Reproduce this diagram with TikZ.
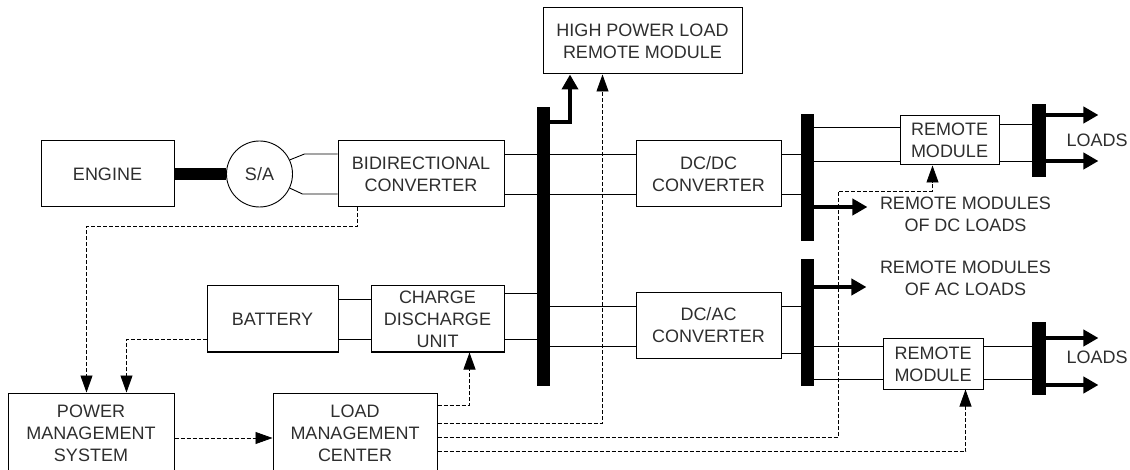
\documentclass[tikz,border=0pt]{standalone}
\usepackage{fontspec}
\setmainfont{Liberation Sans}
\usetikzlibrary{arrows.meta}
\definecolor{ink}{HTML}{2E2E2E}

\begin{document}
\begin{tikzpicture}[x=1pt, y=-1pt, line width=0.9pt,
  font=\fontsize{18}{22}\selectfont, text=ink,
  box/.style={draw, line width=1pt, inner sep=0pt, align=center},
  bus/.style={fill=black, inner sep=0pt, minimum width=13},
  shaft/.style={line width=12pt},
  power/.style={line width=4pt, -{Triangle[length=15pt,width=16pt]}},
  ctrl/.style={line width=0.8pt, dash pattern=on 4pt off 2pt,
               -{Triangle[length=17pt,width=12pt]}},
]
\clip (0,0) rectangle (1130,470);

% generation side
\node[box, minimum width=133, minimum height=66] (engine) at (107.5,174) {ENGINE};
\node[draw, circle, inner sep=0pt, minimum size=66] (sa) at (259.5,174) {S/A};
\node[box, minimum width=166, minimum height=66] (bidir) at (421,174) {BIDIRECTIONAL\\CONVERTER};
\node[box, minimum width=131, minimum height=66] (battery) at (272.5,319) {BATTERY};
\node[box, minimum width=133, minimum height=66] (cdu) at (437.5,319) {CHARGE\\DISCHARGE\\UNIT};

% buses
\node[bus, minimum height=279] (busM) at (543.5,246.5) {};
\node[bus, minimum height=127] (busDC) at (807.5,177.5) {};
\node[bus, minimum height=127] (busAC) at (807.5,322.5) {};
\node[bus, minimum width=14, minimum height=73] (busL1) at (1039,140.5) {};
\node[bus, minimum width=14, minimum height=73] (busL2) at (1039,358.5) {};

% converters and loads
\node[box, minimum width=199, minimum height=66] (hpl) at (642.5,41) {HIGH POWER LOAD\\REMOTE MODULE};
\node[box, minimum width=145, minimum height=66] (dcdc) at (708.5,174) {DC/DC\\CONVERTER};
\node[box, minimum width=145, minimum height=65] (dcac) at (708.5,325.5) {DC/AC\\CONVERTER};
\node[box, minimum width=99, minimum height=49] (rm1) at (949.5,140.5) {REMOTE\\MODULE};
\node[box, minimum width=100, minimum height=50] (rm2) at (933,364) {REMOTE\\MODULE};
\node[inner sep=0pt] (ld1) at (1097,140) {LOADS};
\node[inner sep=0pt] (ld2) at (1097,357) {LOADS};
\node[inner sep=0pt, align=center] (rmDC) at (965.5,214.5) {REMOTE MODULES\\OF DC LOADS};
\node[inner sep=0pt, align=center] (rmAC) at (965.5,278) {REMOTE MODULES\\OF AC LOADS};

% management
\node[box, minimum width=166, minimum height=80] (pms) at (91,433) {POWER\\MANAGEMENT\\SYSTEM};
\node[box, minimum width=164, minimum height=80] (lmc) at (355,433) {LOAD\\MANAGEMENT\\CENTER};
\coordinate (jDC) at (838,191);

% power wiring
\draw[shaft] (engine.east) -- (sa.west);
\draw (sa.25) -- ([xshift=-33pt,yshift=20pt]bidir.west) -- ([yshift=20pt]bidir.west);
\draw (sa.-25) -- ([xshift=-35pt,yshift=-20pt]bidir.west) -- ([yshift=-20pt]bidir.west);
\draw ([yshift=20pt]bidir.east) -- ([yshift=20pt]dcdc.west);
\draw ([yshift=-20pt]bidir.east) -- ([yshift=-20pt]dcdc.west);
\draw ([yshift=20pt]battery.east) -- ([yshift=20pt]cdu.west);
\draw ([yshift=-20pt]battery.east) -- ([yshift=-20pt]cdu.west);
\draw ([yshift=26pt]cdu.east) -- ([yshift=26pt]cdu.east -| busM.west);
\draw ([yshift=-20pt]cdu.east) -- ([yshift=-20pt]cdu.east -| busM.west);
\draw ([yshift=19.5pt]dcac.west -| busM.east) -- ([yshift=19.5pt]dcac.west);
\draw ([yshift=-20.5pt]dcac.west -| busM.east) -- ([yshift=-20.5pt]dcac.west);
\draw ([yshift=20pt]dcdc.east) -- ([yshift=20pt]dcdc.east -| busDC.west);
\draw ([yshift=-20pt]dcdc.east) -- ([yshift=-20pt]dcdc.east -| busDC.west);
\draw ([yshift=19.5pt]dcac.east) -- ([yshift=19.5pt]dcac.east -| busAC.west);
\draw ([yshift=-27.5pt]dcac.east) -- ([yshift=-27.5pt]dcac.east -| busAC.west);
\draw ([yshift=13.5pt]rm1.west -| busDC.east) -- ([yshift=13.5pt]rm1.west);
\draw ([yshift=-20.5pt]rm1.west -| busDC.east) -- ([yshift=-20.5pt]rm1.west);
\draw ([yshift=16.5pt]rm1.east) -- ([yshift=16.5pt]rm1.east -| busL1.west);
\draw ([yshift=-20.5pt]rm1.east) -- ([yshift=-20.5pt]rm1.east -| busL1.west);
\draw ([yshift=18pt]rm2.west -| busAC.east) -- ([yshift=18pt]rm2.west);
\draw ([yshift=-15pt]rm2.west -| busAC.east) -- ([yshift=-15pt]rm2.west);
\draw ([yshift=18pt]rm2.east) -- ([yshift=18pt]rm2.east -| busL2.west);
\draw ([yshift=-15pt]rm2.east) -- ([yshift=-15pt]rm2.east -| busL2.west);

% power outputs
\draw[power] ([yshift=124.5pt]busM.east) -| ([xshift=27.5pt]hpl.south west);
\draw[power] ([yshift=-29.5pt]busDC.east) -- ++(53,0);
\draw[power] ([yshift=35.5pt]busAC.east) -- ++(52,0);
\draw[power] ([yshift=25.5pt]busL1.east) -- ++(52,0);
\draw[power] ([yshift=-20.5pt]busL1.east) -- ++(52,0);
\draw[power] ([yshift=20.5pt]busL2.east) -- ++(52,0);
\draw[power] ([yshift=-26.5pt]busL2.east) -- ++(52,0);

% control signals
\draw[ctrl] ([xshift=20pt]bidir.south west) -- ++(0,19) -| ([xshift=79pt]pms.north west);
\draw[ctrl] ([yshift=-20pt]battery.west) -| ([xshift=119pt]pms.north west);
\draw[ctrl] ([yshift=-5pt]pms.east) -- ([yshift=-5pt]pms.east -| lmc.west);
\draw[ctrl] ([yshift=28pt]lmc.east) -| ([xshift=99pt]cdu.south west);
\draw[ctrl] ([yshift=10pt]lmc.east) -| ([xshift=60pt]hpl.south west);
\draw[ctrl] ([yshift=-4.5pt]lmc.east) -| (jDC) -| ([xshift=33pt]rm1.south west);
\draw[ctrl] ([yshift=-18.5pt]lmc.east) -| ([xshift=83pt]rm2.south west);

\end{tikzpicture}
\end{document}
